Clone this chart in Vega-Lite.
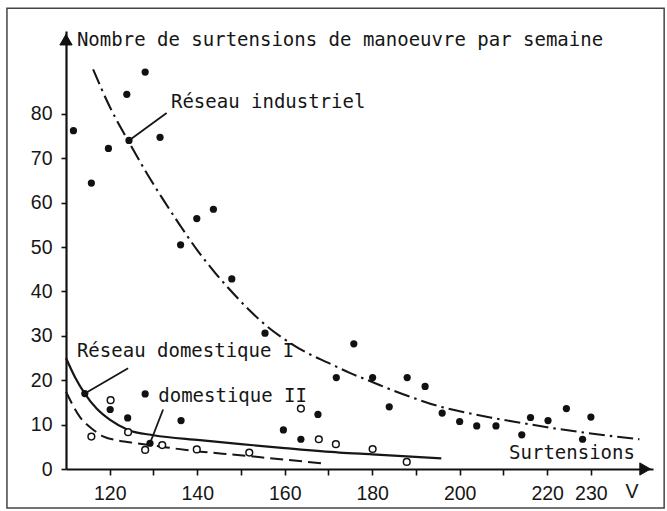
{
  "$schema": "https://vega.github.io/schema/vega-lite/v6.json",
  "width": 587,
  "height": 438,
  "autosize": {"type": "none"},
  "padding": {"left": 66, "top": 31, "right": 14, "bottom": 42},
  "background": "white",
  "config": {
    "view": {"stroke": null},
    "font": "DejaVu Sans Mono",
    "text": {"font": "DejaVu Sans Mono", "fontSize": 19, "color": "#161616"},
    "axis": {
      "grid": false,
      "title": null,
      "domainColor": "#111111",
      "domainWidth": 2.2,
      "tickColor": "#111111",
      "tickWidth": 1.6,
      "labelFont": "Liberation Sans",
      "labelFontSize": 19.5,
      "labelColor": "#161616",
      "labelOverlap": false,
      "labelFlush": false
    }
  },
  "layer": [
    {
      "data": {"values": [{}]},
      "mark": {"type": "rect", "fill": null, "stroke": "#444444", "strokeWidth": 1.5},
      "encoding": {
        "x": {"datum": 96.5, "type": "quantitative", "scale": {"domain": [110, 244.2], "nice": false, "zero": false},
              "axis": {"values": [120, 130, 140, 150, 160, 170, 180, 190, 200, 210, 220, 230], "tickSize": 6, "labelPadding": 9,
                       "labelExpr": "(datum.value % 20 == 0 || datum.value == 230) ? datum.label : ''"}},
        "x2": {"datum": 246.75},
        "y": {"datum": 103.8, "type": "quantitative", "scale": {"domain": [0, 98.65], "nice": false},
              "axis": {"values": [0, 10, 20, 30, 40, 50, 60, 70, 80], "tickSize": 5, "labelPadding": 9}},
        "y2": {"datum": -8.8}
      }
    },
    {
      "data": {"values": [
        {"v": 116.2, "n": 90}, {"v": 120, "n": 81.6}, {"v": 124, "n": 74.3}, {"v": 128, "n": 67.4},
        {"v": 132, "n": 61}, {"v": 136, "n": 55}, {"v": 140, "n": 49.3}, {"v": 144, "n": 44.3},
        {"v": 148, "n": 39.8}, {"v": 152, "n": 35.7}, {"v": 156, "n": 32.1}, {"v": 160, "n": 29.2},
        {"v": 165, "n": 26.2}, {"v": 170, "n": 23.9}, {"v": 175, "n": 21.6}, {"v": 180, "n": 19.6},
        {"v": 185, "n": 17.6}, {"v": 190, "n": 15.8}, {"v": 195, "n": 14.2}, {"v": 200, "n": 13},
        {"v": 207, "n": 11.6}, {"v": 214, "n": 10.4}, {"v": 220, "n": 9.4}, {"v": 230, "n": 8},
        {"v": 241.1, "n": 6.7}
      ]},
      "mark": {"type": "line", "interpolate": "monotone", "color": "#161616", "strokeWidth": 2.1, "strokeDash": [16, 5, 2.5, 5]},
      "encoding": {
        "x": {"field": "v", "type": "quantitative"},
        "y": {"field": "n", "type": "quantitative"}
      }
    },
    {
      "data": {"values": [
        {"v": 110, "n": 25}, {"v": 112, "n": 20.8}, {"v": 114.3, "n": 17}, {"v": 117, "n": 13.6},
        {"v": 120, "n": 11.1}, {"v": 124.2, "n": 8.8}, {"v": 130, "n": 7.6}, {"v": 140.6, "n": 6.5},
        {"v": 150, "n": 5.6}, {"v": 160, "n": 4.7}, {"v": 172.5, "n": 3.7}, {"v": 180, "n": 3.3},
        {"v": 195.8, "n": 2.4}
      ]},
      "mark": {"type": "line", "interpolate": "monotone", "color": "#161616", "strokeWidth": 2.2},
      "encoding": {
        "x": {"field": "v", "type": "quantitative"},
        "y": {"field": "n", "type": "quantitative"}
      }
    },
    {
      "data": {"values": [
        {"v": 110, "n": 17.4}, {"v": 113.2, "n": 11.7}, {"v": 116.3, "n": 8.8}, {"v": 118.6, "n": 7.3},
        {"v": 122, "n": 6.4}, {"v": 126.2, "n": 5.8}, {"v": 132, "n": 5}, {"v": 139, "n": 4.1},
        {"v": 149.8, "n": 3.1}, {"v": 160, "n": 2.1}, {"v": 169.5, "n": 1.2}
      ]},
      "mark": {"type": "line", "interpolate": "monotone", "color": "#161616", "strokeWidth": 2, "strokeDash": [13, 6]},
      "encoding": {
        "x": {"field": "v", "type": "quantitative"},
        "y": {"field": "n", "type": "quantitative"}
      }
    },
    {
      "data": {"values": [{}]},
      "mark": {"type": "rule", "color": "#161616", "strokeWidth": 1.8},
      "encoding": {"x": {"datum": 133.0, "type": "quantitative"}, "y": {"datum": 80.2, "type": "quantitative"}, "x2": {"datum": 124.4}, "y2": {"datum": 74.0}}
    },
    {
      "data": {"values": [{}]},
      "mark": {"type": "rule", "color": "#161616", "strokeWidth": 1.8},
      "encoding": {"x": {"datum": 124.2, "type": "quantitative"}, "y": {"datum": 22.7, "type": "quantitative"}, "x2": {"datum": 114.3}, "y2": {"datum": 17.0}}
    },
    {
      "data": {"values": [{}]},
      "mark": {"type": "rule", "color": "#161616", "strokeWidth": 1.8},
      "encoding": {"x": {"datum": 132.2, "type": "quantitative"}, "y": {"datum": 13.4, "type": "quantitative"}, "x2": {"datum": 129.2}, "y2": {"datum": 5.8}}
    },
    {
      "data": {"values": [
        {"v": 128.1, "n": 89.4, "kind": "filled"}, {"v": 123.9, "n": 84.4, "kind": "filled"}, {"v": 111.7, "n": 76.2, "kind": "filled"},
        {"v": 131.5, "n": 74.7, "kind": "filled"}, {"v": 124.4, "n": 74.0, "kind": "filled"}, {"v": 119.7, "n": 72.2, "kind": "filled"},
        {"v": 115.8, "n": 64.4, "kind": "filled"}, {"v": 143.7, "n": 58.5, "kind": "filled"}, {"v": 139.9, "n": 56.4, "kind": "filled"},
        {"v": 136.2, "n": 50.5, "kind": "filled"}, {"v": 147.9, "n": 42.8, "kind": "filled"}, {"v": 155.5, "n": 30.6, "kind": "filled"},
        {"v": 175.8, "n": 28.2, "kind": "filled"}, {"v": 171.8, "n": 20.6, "kind": "filled"}, {"v": 180.1, "n": 20.6, "kind": "filled"},
        {"v": 188.0, "n": 20.6, "kind": "filled"}, {"v": 183.9, "n": 14.0, "kind": "filled"}, {"v": 192.1, "n": 18.6, "kind": "filled"},
        {"v": 196.0, "n": 12.6, "kind": "filled"}, {"v": 200.0, "n": 10.7, "kind": "filled"}, {"v": 203.9, "n": 9.7, "kind": "filled"},
        {"v": 208.3, "n": 9.7, "kind": "filled"}, {"v": 214.2, "n": 7.7, "kind": "filled"}, {"v": 216.2, "n": 11.6, "kind": "filled"},
        {"v": 220.2, "n": 10.9, "kind": "filled"}, {"v": 224.4, "n": 13.6, "kind": "filled"}, {"v": 228.1, "n": 6.7, "kind": "filled"},
        {"v": 230.0, "n": 11.7, "kind": "filled"},
        {"v": 128.1, "n": 16.9, "kind": "filled"}, {"v": 120.1, "n": 13.4, "kind": "filled"}, {"v": 124.1, "n": 11.5, "kind": "filled"},
        {"v": 136.3, "n": 10.9, "kind": "filled"}, {"v": 159.7, "n": 8.8, "kind": "filled"}, {"v": 163.7, "n": 6.7, "kind": "filled"},
        {"v": 167.6, "n": 12.3, "kind": "filled"}, {"v": 114.3, "n": 17.0, "kind": "filled"}, {"v": 129.2, "n": 5.8, "kind": "filled"},
        {"v": 120.2, "n": 15.5, "kind": "open"}, {"v": 115.8, "n": 7.3, "kind": "open"}, {"v": 124.2, "n": 8.3, "kind": "open"},
        {"v": 128.1, "n": 4.3, "kind": "open"}, {"v": 132.0, "n": 5.4, "kind": "open"}, {"v": 139.9, "n": 4.4, "kind": "open"},
        {"v": 151.9, "n": 3.7, "kind": "open"}, {"v": 163.7, "n": 13.6, "kind": "open"}, {"v": 167.8, "n": 6.7, "kind": "open"},
        {"v": 171.7, "n": 5.6, "kind": "open"}, {"v": 180.1, "n": 4.5, "kind": "open"}, {"v": 187.9, "n": 1.6, "kind": "open"}
      ]},
      "layer": [
        {
          "transform": [{"filter": "datum.kind == 'filled'"}],
          "mark": {"type": "point", "shape": "circle", "filled": true, "color": "#111111", "size": 52, "opacity": 1},
          "encoding": {"x": {"field": "v", "type": "quantitative"}, "y": {"field": "n", "type": "quantitative"}}
        },
        {
          "transform": [{"filter": "datum.kind == 'open'"}],
          "mark": {"type": "point", "shape": "circle", "filled": false, "fill": "white", "fillOpacity": 1, "stroke": "#111111", "strokeWidth": 1.5, "size": 45, "opacity": 1},
          "encoding": {"x": {"field": "v", "type": "quantitative"}, "y": {"field": "n", "type": "quantitative"}}
        }
      ]
    },
    {
      "data": {"values": [{}]},
      "mark": {"type": "point", "shape": "triangle-up", "filled": true, "fill": "#111111", "stroke": "#111111", "strokeWidth": 1, "size": 150, "opacity": 1},
      "encoding": {"x": {"datum": 110, "type": "quantitative"}, "y": {"datum": 96.7, "type": "quantitative"}}
    },
    {
      "data": {"values": [{}]},
      "mark": {"type": "point", "shape": "triangle-right", "filled": true, "fill": "#111111", "stroke": "#111111", "strokeWidth": 1, "size": 150, "opacity": 1},
      "encoding": {"x": {"datum": 242.4, "type": "quantitative"}, "y": {"datum": 0, "type": "quantitative"}}
    },
    {
      "data": {"values": [{}]},
      "mark": {"type": "text", "align": "left", "baseline": "alphabetic"},
      "encoding": {"x": {"datum": 112.5, "type": "quantitative"}, "y": {"datum": 95.3, "type": "quantitative"}, "text": {"value": "Nombre de surtensions de manoeuvre par semaine"}}
    },
    {
      "data": {"values": [{}]},
      "mark": {"type": "text", "align": "left", "baseline": "alphabetic"},
      "encoding": {"x": {"datum": 134.0, "type": "quantitative"}, "y": {"datum": 81.3, "type": "quantitative"}, "text": {"value": "Réseau industriel"}}
    },
    {
      "data": {"values": [{}]},
      "mark": {"type": "text", "align": "left", "baseline": "alphabetic"},
      "encoding": {"x": {"datum": 112.5, "type": "quantitative"}, "y": {"datum": 25.2, "type": "quantitative"}, "text": {"value": "Réseau domestique I"}}
    },
    {
      "data": {"values": [{}]},
      "mark": {"type": "text", "align": "left", "baseline": "alphabetic"},
      "encoding": {"x": {"datum": 131.1, "type": "quantitative"}, "y": {"datum": 15.2, "type": "quantitative"}, "text": {"value": "domestique II"}}
    },
    {
      "data": {"values": [{}]},
      "mark": {"type": "text", "align": "left", "baseline": "alphabetic"},
      "encoding": {"x": {"datum": 211.3, "type": "quantitative"}, "y": {"datum": 2.2, "type": "quantitative"}, "text": {"value": "Surtensions"}}
    },
    {
      "data": {"values": [{}]},
      "mark": {"type": "text", "align": "center", "baseline": "alphabetic", "font": "Liberation Sans", "fontSize": 19.5},
      "encoding": {"x": {"datum": 239.4, "type": "quantitative"}, "y": {"datum": -6.5, "type": "quantitative"}, "text": {"value": "V"}}
    }
  ]
}
